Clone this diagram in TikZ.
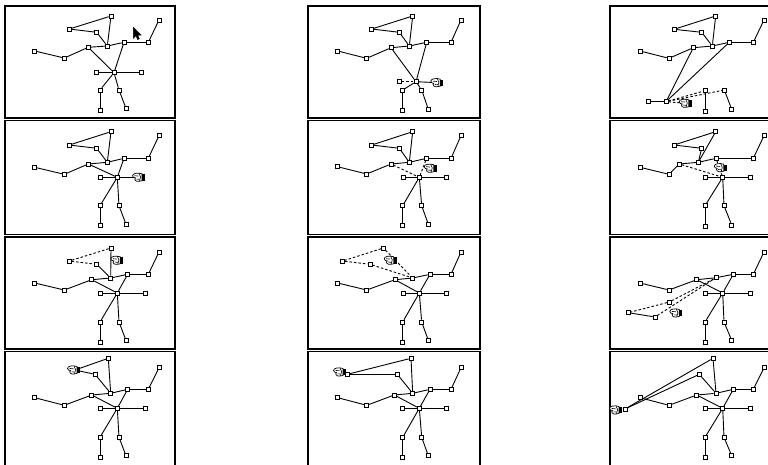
\documentclass[tikz,border=0pt]{standalone}
\begin{document}
% Twelve frames of a graph editor session: a small node-and-link graph,
% with a grabbing hand and rubber-band (dashed) links while a node is moved.
\newcommand\panelverts[2]{\foreach \n/\x/\y in {#2}{\node[vtx] (#1\n) at (\x,\y) {};}}
\newcommand\panellinks[3]{\foreach \a/\b in {#3}{\draw[#2] (#1\a) -- (#1\b);}}
\begin{tikzpicture}[x=1pt,y=-1pt,
  vtx/.style={draw, fill=white, rectangle, minimum size=3.8pt, inner sep=0pt, line width=0.8pt},
  link/.style={line width=0.9pt},
  rubber/.style={line width=0.9pt, dash pattern=on 2.5pt off 2pt},
  frame/.style={line width=1.6pt},
  pointer/.pic={\filldraw[black] (0,0) -- (0,11) -- (2.6,8.4) -- (4.4,12.3) -- (6.1,11.5) -- (4.3,7.8) -- (7.8,7.8) -- cycle;},
  grab/.pic={
    \filldraw[fill=white, line width=0.7pt] (2,-3.5) .. controls (-2,-5) and (-7.5,-4) .. (-7.5,-1.5)
      .. controls (-7.5,0.5) and (-5.5,0.2) .. (-4.5,0.6)
      .. controls (-6.5,2) and (-4,4.8) .. (-1,4) -- (2,3.5) -- cycle;
    \draw[line width=0.6pt] (-5.5,-1.6) -- (-1.5,-1.2) (-3.5,1.8) -- (-0.5,2);
    \draw[line width=0.6pt] (-1,-4) .. controls (1,-2) and (1,1) .. (-0.5,3.8);
    \fill (2,-3.2) rectangle (5,3.2);}]
\useasboundingbox (0,0) rectangle (768,464);

% panel frames
\foreach \l/\r in {5/175, 308/480, 610/780}{
  \foreach \t/\b in {6/118, 120.5/234.5, 237/349, 351.5/470}{
    \draw[frame] (\l,\t) rectangle (\r,\b);}}

% ---- row 1, column 1: pointer
\panelverts{p11}{A/111/16, B/69.3/29, C/96.7/32.3, D/159/20, E/107.3/46, F/124/42.3, G/148.3/42.3, H/88.3/47.3, I/34.7/51, J/64.3/58, K/114/72.7, L/96.7/72.7, M/141.7/72.7, N/100/90, O/119/90, P/100/110, Q/126/108.3}
\panellinks{p11}{link}{A/B,B/C,A/E,C/E,I/J,J/H,H/E,E/F,F/G,G/D,H/K,F/K,L/K,K/M,K/N,N/P,K/O,O/Q}
\pic at (133.3,27.3) {pointer};

% ---- row 1, column 2
\panelverts{p12}{A/412.7/16, B/371.7/29, C/399.3/32.3, D/461/20, E/409.3/46, F/426.7/42.3, G/451/42.3, H/391/47.7, I/337.7/51, J/366.7/58.3, K/416/81.7, L/399.3/81.7, N/402.7/90, O/421.7/90, P/402.7/110, Q/428.3/109.3}
\coordinate (p12h) at (438.3,82.7);
\panellinks{p12}{link}{A/B,B/C,A/E,C/E,I/J,J/H,H/E,E/F,F/G,G/D,H/K,F/K,K/N,N/P,K/O,O/Q}
\panellinks{p12}{rubber}{L/K}
\draw[link] (p12K) -- (p12h);
\pic at (p12h) {grab};

% ---- row 1, column 3
\panelverts{p13}{A/715.7/16, B/674/29.3, C/701.7/32.3, D/764/20, E/712.3/46, F/729.3/42.3, G/753.3/42.3, H/693.3/47.7, I/640/51, J/669/58.3, K/666/101.7, L/648.3/101.7, N/705/90.7, O/724.3/90, P/705/111, Q/731.7/109.3}
\coordinate (p13h) at (686.7,103.3);
\panellinks{p13}{link}{A/B,B/C,A/E,C/E,I/J,J/H,H/E,E/F,F/G,G/D,H/K,F/K,L/K,N/P,O/Q}
\panellinks{p13}{rubber}{K/N,K/O}
\draw[rubber] (p13K) -- (p13h);
\pic at (p13h) {grab};

% ---- row 2, column 1
\panelverts{p21}{A/111/131.7, B/69.3/145, C/96.7/148.3, D/159/135.7, E/107.3/162.3, F/124/158.3, G/148.3/158.3, H/88.3/164, I/34.7/167.3, J/64.3/174.3, K/117.3/177.3, L/100/177.3, N/100/205.7, O/119/205.7, P/100/225.7, Q/126/224.3}
\coordinate (p21h) at (140,177.3);
\panellinks{p21}{link}{A/B,B/C,A/E,C/E,I/J,J/H,H/E,E/F,F/G,G/D,H/K,F/K,L/K,K/N,N/P,K/O,O/Q}
\draw[link] (p21K) -- (p21h);
\pic at (p21h) {grab};

% ---- row 2, column 2
\panelverts{p22}{A/412.7/131.7, B/371.7/145, C/399.3/148.3, D/461/135.7, E/409.3/162.3, F/426.7/158.3, G/451/158.3, H/391/164, I/337.7/166.7, J/366.7/174, K/419.3/177.3, L/403.3/177.3, M/446.7/177.3, N/402.7/205.7, O/421.7/205.7, P/402.7/225.7, Q/428.3/224.3}
\panellinks{p22}{link}{A/B,B/C,A/E,C/E,I/J,J/H,H/E,E/F,F/G,G/D,L/K,K/M,K/N,N/P,K/O,O/Q}
\panellinks{p22}{rubber}{H/K,F/K}
\pic at (431.7,168.3) {grab};

% ---- row 2, column 3
\panelverts{p23}{A/715.7/131.7, B/674/145, C/701.7/148.3, D/764/135.7, E/698.3/162.3, F/716/158.3, G/753.3/158.3, H/679.3/164, I/640/167.3, J/669/174.3, K/722.7/177.3, L/705/177.3, M/750/177.3, N/705/205.7, O/724/205.7, P/705/226.7, Q/731.7/225}
\panellinks{p23}{link}{A/B,B/C,A/E,C/E,I/J,J/H,H/E,E/F,F/G,G/D,L/K,K/M,K/N,N/P,K/O,O/Q}
\panellinks{p23}{rubber}{H/K,F/K}
\pic at (721.7,167.7) {grab};

% ---- row 3, column 1
\panelverts{p31}{A/111/248, B/69.3/261, C/96.7/264.3, D/159/252, E/110.7/278, F/127.7/274.3, G/148.3/274.3, H/91.7/279.7, I/34.7/283, J/64.3/290, K/117.3/293, L/100/293, M/145/293, N/100/322, O/119/322, P/100/342, Q/126/340.3}
\panellinks{p31}{link}{A/E,C/E,I/J,J/H,H/E,E/F,F/G,G/D,H/K,F/K,L/K,K/M,K/N,N/P,K/O,O/Q}
\panellinks{p31}{rubber}{A/B,B/C}
\pic at (118.3,260.3) {grab};

% ---- row 3, column 2
\panelverts{p32}{A/383.3/248, B/342.7/261, C/370/264.3, D/461/252, E/412.7/278, F/430/274.3, G/451/274.3, H/395/279.7, I/337.7/283, J/366.7/290, K/419.3/293, L/403.3/293, M/446.7/293, N/402.7/322, O/421.7/322, P/402.7/342, Q/428.3/340.3}
\panellinks{p32}{link}{I/J,J/H,H/E,E/F,F/G,G/D,H/K,F/K,L/K,K/M,K/N,N/P,K/O,O/Q}
\panellinks{p32}{rubber}{A/B,B/C,A/E,C/E}
\pic at (391.7,260.3) {grab};

% ---- row 3, column 3
\panelverts{p33}{A/669.3/302, B/628.3/312.7, C/655/317, D/764/252, E/716/277.7, F/733.3/274.3, G/753.3/274.3, H/696.7/279.7, I/640/283, J/669/290, K/722.7/293, L/705/293, M/750/293, N/705/322, O/724/322, P/705/342, Q/731.7/340.3}
\panellinks{p33}{link}{B/C,I/J,J/H,H/E,E/F,F/G,G/D,H/K,F/K,L/K,K/M,K/N,N/P,K/O,O/Q}
\panellinks{p33}{rubber}{A/B,A/E,C/E}
\pic at (677.3,313) {grab};

% ---- row 4, column 1
\panelverts{p41}{A/108.3/358.3, C/95/374.3, D/159/367.7, E/110.7/393.3, F/127.7/389.3, G/148.3/389.3, H/91.7/395, I/34.7/397.7, J/64.3/405.3, K/117.3/408.3, L/100/408.3, M/145/408.3, N/100/437.3, O/119/437.3, P/100/457.3, Q/126/455.7}
\coordinate (p41h) at (75,370);
\panellinks{p41}{link}{A/E,C/E,I/J,J/H,H/E,E/F,F/G,G/D,H/K,F/K,L/K,K/M,K/N,N/P,K/O,O/Q}
\draw[link] (p41h) -- (p41A) (p41h) -- (p41C);
\pic at (p41h) {grab};

% ---- row 4, column 2
\panelverts{p42}{A/411/358.3, B/347.3/374.3, C/397.3/374.3, D/461/367.7, E/412.7/393.3, F/430/389.3, G/451/389.3, H/394.3/395, I/337.7/397.7, J/366.7/405.3, K/419.3/408.3, L/402.7/408.3, M/446.7/408.3, N/402.7/437.3, O/421.7/437.3, P/402.7/457.3, Q/428.3/455.7}
\panellinks{p42}{link}{A/B,B/C,A/E,C/E,I/J,J/H,H/E,E/F,F/G,G/D,H/K,F/K,L/K,K/M,K/N,N/P,K/O,O/Q}
\pic at (341,372) {grab};

% ---- row 4, column 3
\panelverts{p43}{A/713/358.3, B/625/409, C/699.3/374.3, D/764/367.7, E/716/393.3, F/733.3/389.3, G/753.3/389.3, H/696.7/395, I/640/397.7, J/669/405.3, K/722.7/408.3, L/705/408.3, M/750/408.3, N/705/437.3, O/724/437.3, P/705/457.3, Q/731.7/455.7}
\panellinks{p43}{link}{A/B,B/C,A/E,C/E,I/J,J/H,H/E,E/F,F/G,G/D,H/K,F/K,L/K,K/M,K/N,N/P,K/O,O/Q}
\pic at (617,410) {grab};
\end{tikzpicture}
\end{document}
